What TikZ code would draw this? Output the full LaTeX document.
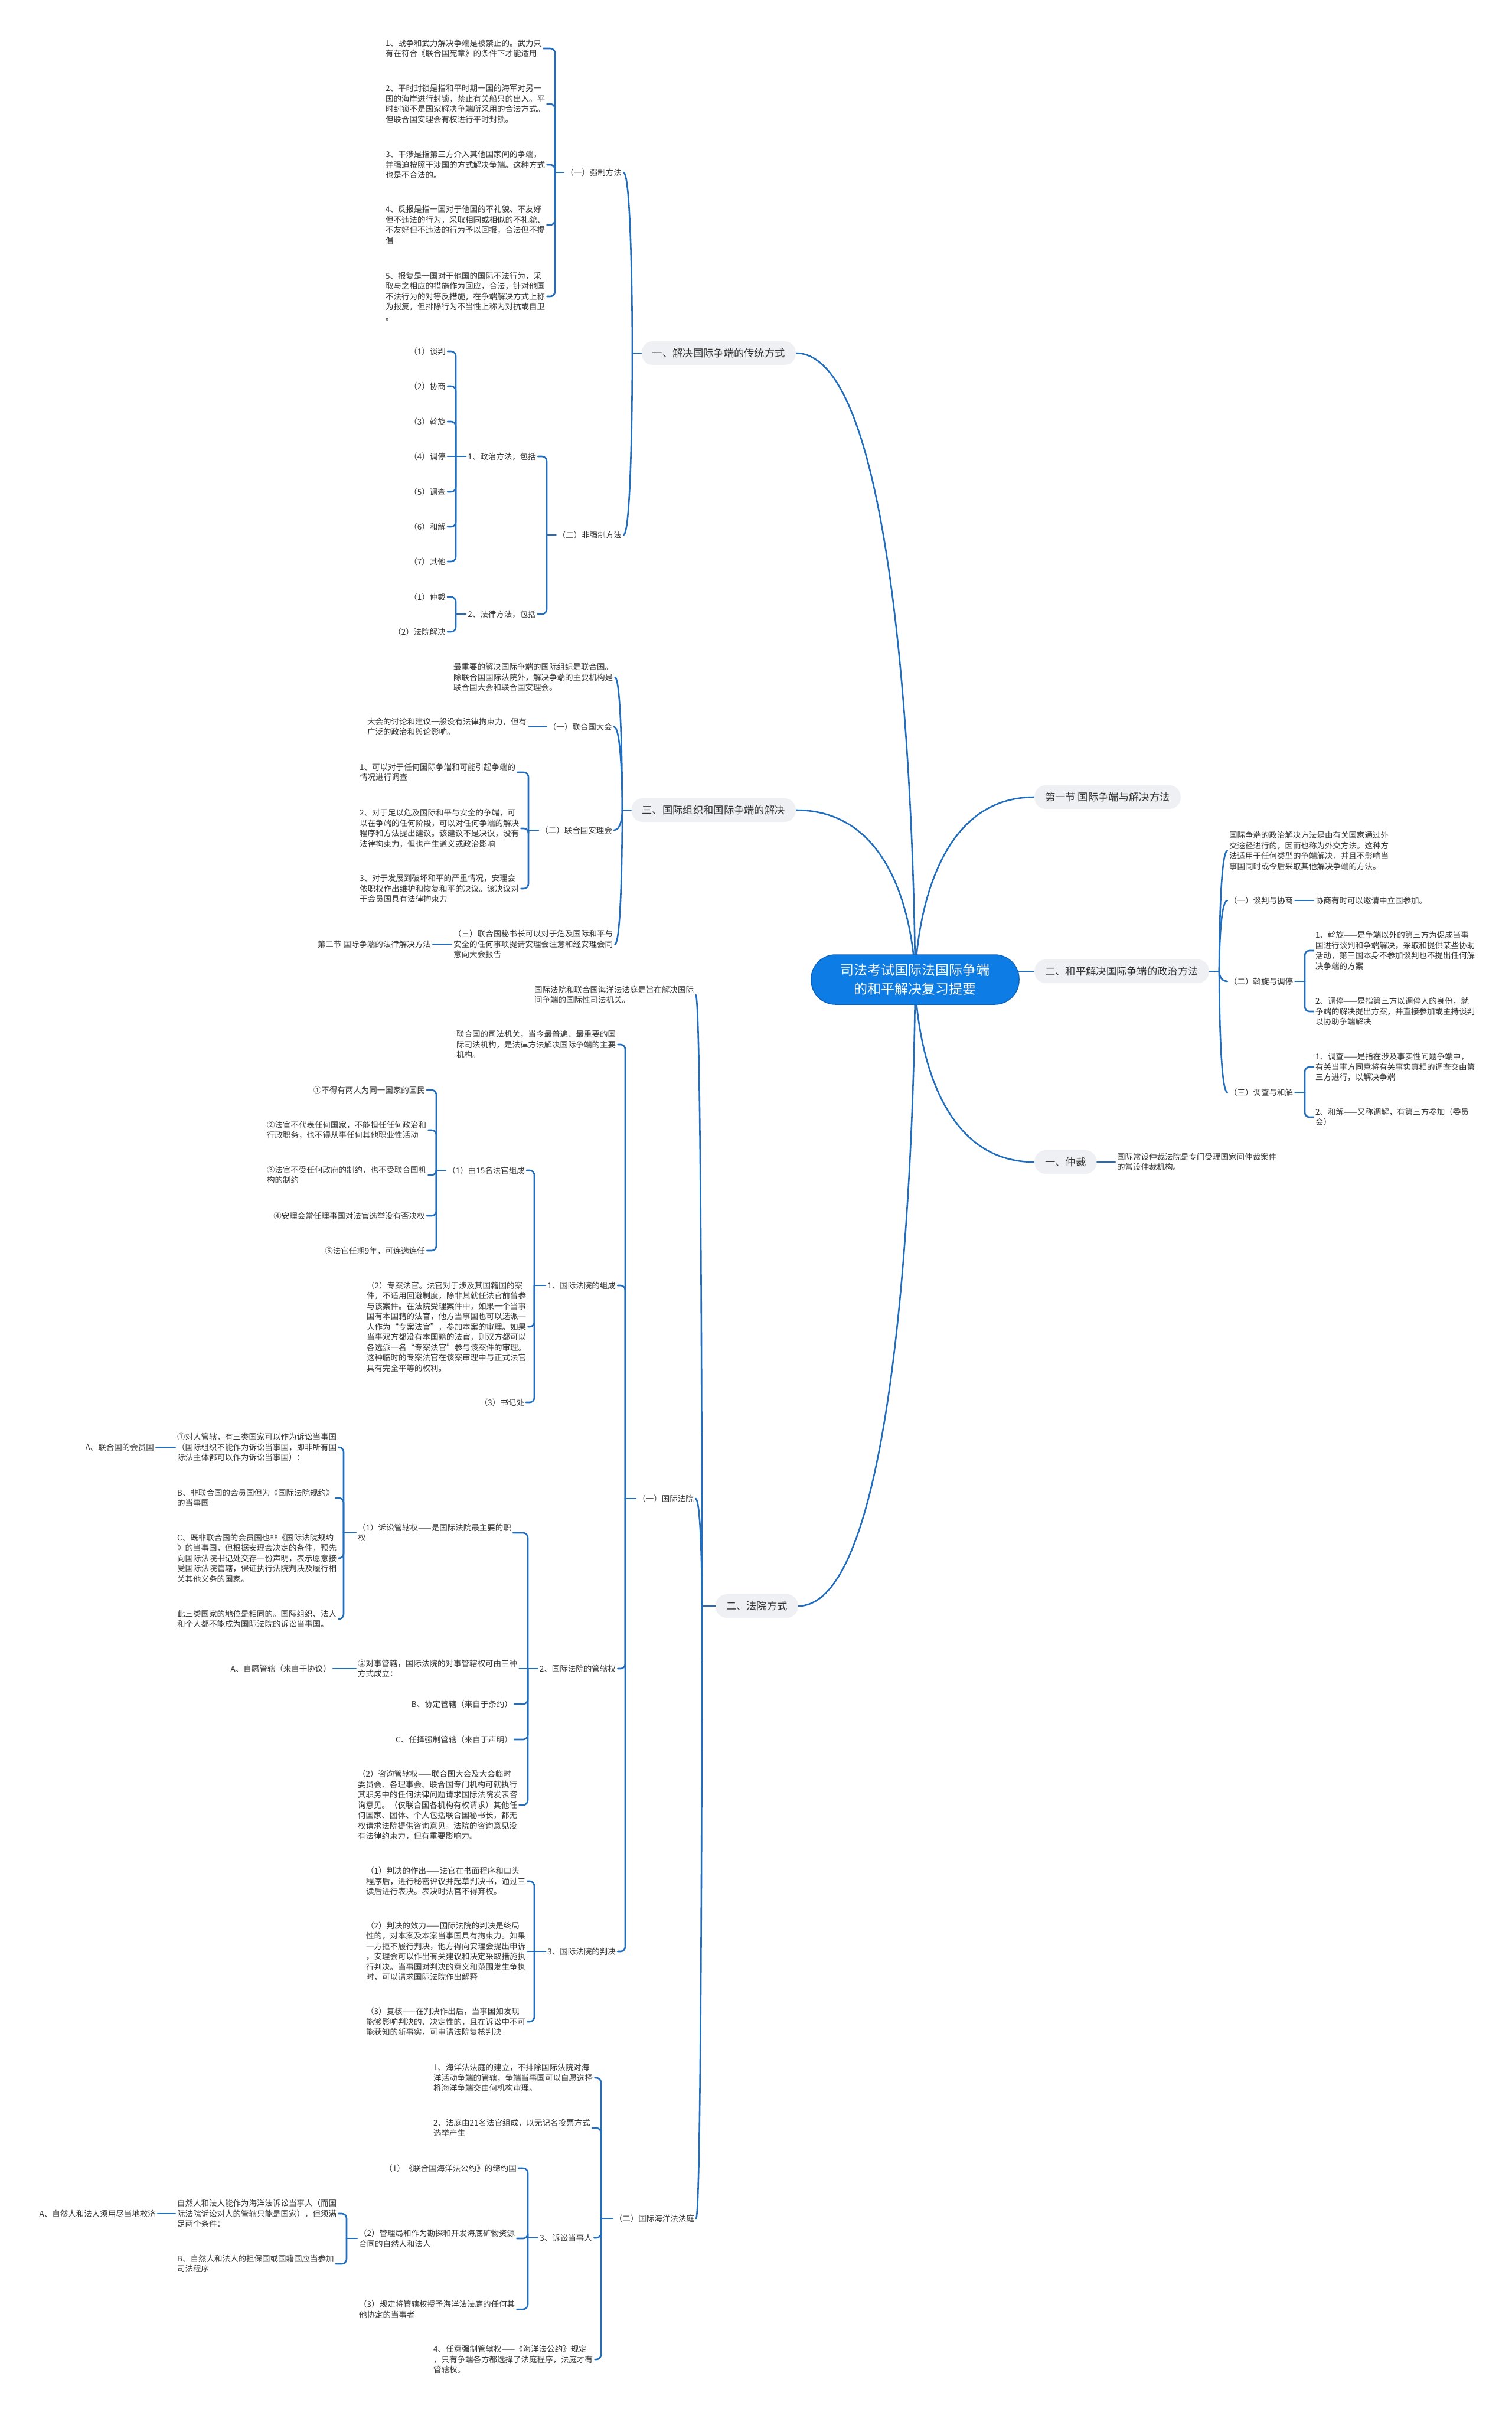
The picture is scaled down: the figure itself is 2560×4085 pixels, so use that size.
\documentclass[tikz,border=0pt]{standalone}
\usepackage{fontspec}
\setmainfont{Noto Sans CJK SC}
\definecolor{lcol}{HTML}{216EBE}
\definecolor{tcol}{HTML}{333333}
\definecolor{boxcol}{HTML}{EEF0F3}
\definecolor{rootcol}{HTML}{0D7DE5}
\definecolor{rootedge}{HTML}{0B63BD}
\pgfdeclarelayer{bg}\pgfdeclarelayer{lines}\pgfsetlayers{bg,lines,main}
\tikzset{
  tx/.style={font=\fontsize{13.5}{17.5}\selectfont, text=tcol, align=left, inner xsep=3pt, inner ysep=1pt},
  lvlone/.style={font=\fontsize{17.3}{22}\selectfont, text=tcol, fill=boxcol, rounded corners=19pt, minimum height=40pt, inner xsep=18pt, inner ysep=2pt},
  rootbox/.style={font=\fontsize{23}{32}\selectfont, text=white, align=center, fill=rootcol, draw=rootedge, line width=1.5pt, rounded corners=41pt, minimum width=352pt, minimum height=84pt},
  conn/.style={draw=lcol, line width=2.6pt, line cap=round, line join=round},
}
% bracket, children on the left
\newcommand\brL[3]{%
  \begin{pgfonlayer}{lines}
  \path (#2,0) coordinate (bxc);
  \draw[conn] (#1.west) -- (bxc |- #1.west);
  \foreach \c in {#3}{\draw[conn,rounded corners=8pt] (bxc |- #1.west) -- (bxc |- \c.east) -- (\c.east);}
  \end{pgfonlayer}}
% bracket, children on the right
\newcommand\brR[3]{%
  \begin{pgfonlayer}{lines}
  \path (#2,0) coordinate (bxc);
  \draw[conn] (#1.east) -- (bxc |- #1.east);
  \foreach \c in {#3}{\draw[conn,rounded corners=8pt] (bxc |- #1.east) -- (bxc |- \c.west) -- (\c.west);}
  \end{pgfonlayer}}
% curved, children on the left
\newcommand\cuL[3]{%
  \begin{pgfonlayer}{lines}
  \path (#2,0) coordinate (bxc);
  \draw[conn] (#1.west) -- (bxc |- #1.west);
  \foreach \c in {#3}{\draw[conn] (bxc |- #1.west) .. controls (bxc |- #1.west) and (bxc |- \c.east) .. (\c.east);}
  \end{pgfonlayer}}
% curved, children on the right
\newcommand\cuR[3]{%
  \begin{pgfonlayer}{lines}
  \path (#2,0) coordinate (bxc);
  \draw[conn] (#1.east) -- (bxc |- #1.east);
  \foreach \c in {#3}{\draw[conn] (bxc |- #1.east) .. controls (bxc |- #1.east) and (bxc |- \c.west) .. (\c.west);}
  \end{pgfonlayer}}
% straight link, child on the left / right
\newcommand\stL[2]{\begin{pgfonlayer}{lines}\draw[conn] (#1.west) -- (#2.east);\end{pgfonlayer}}
\newcommand\stR[2]{\begin{pgfonlayer}{lines}\draw[conn] (#1.east) -- (#2.west);\end{pgfonlayer}}

\begin{document}
\begin{tikzpicture}[x=1pt,y=-1pt]
\begin{pgfonlayer}{bg}
\fill[white] (0,0) rectangle (2560,4085);
\end{pgfonlayer}
\useasboundingbox (0,0) rectangle (2560,4085);

% ---------- root ----------
\node[rootbox] (R) at (1550,1659) {司法考试国际法国际争端\\的和平解决复习提要};
\coordinate (rc) at (1550,1659);

% ---------- level 1 ----------
\node[lvlone, anchor=east] (A0) at (1348,598) {一、解决国际争端的传统方式};
\node[lvlone, anchor=east] (B0) at (1348,1372) {三、国际组织和国际争端的解决};
\node[lvlone, anchor=east] (C0) at (1352,2720) {二、法院方式};
\node[lvlone, anchor=west] (D1) at (1752,1350) {第一节 国际争端与解决方法};
\node[lvlone, anchor=west] (D2) at (1752,1645) {二、和平解决国际争端的政治方法};
\node[lvlone, anchor=west] (D3) at (1752,1968) {一、仲裁};

\begin{pgfonlayer}{lines}
\draw[conn] (rc) .. controls (rc) and (rc |- D1.west) .. (D1.west);
\draw[conn] (rc) .. controls (rc) and (rc |- D3.west) .. (D3.west);
\draw[conn] (rc) .. controls (rc) and (rc |- A0.east) .. (A0.east);
\draw[conn] (rc) .. controls (rc) and (rc |- B0.east) .. (B0.east);
\draw[conn] (rc) .. controls (rc) and (rc |- C0.east) .. (C0.east);
\draw[conn] (R.center |- D2.west) -- (D2.west);
\end{pgfonlayer}

% ---------- section A ----------
\node[tx, anchor=east] (A1) at (1056,292) {（一）强制方法};
\node[tx, anchor=west] (a11) at (650,82) {1、战争和武力解决争端是被禁止的。武力只\\有在符合《联合国宪章》的条件下才能适用};
\node[tx, anchor=west] (a12) at (650,176) {2、平时封锁是指和平时期一国的海军对另一\\国的海岸进行封锁，禁止有关船只的出入。平\\时封锁不是国家解决争端所采用的合法方式。\\但联合国安理会有权进行平时封锁。};
\node[tx, anchor=west] (a13) at (650,279) {3、干涉是指第三方介入其他国家间的争端，\\并强迫按照干涉国的方式解决争端。这种方式\\也是不合法的。};
\node[tx, anchor=west] (a14) at (650,381) {4、反报是指一国对于他国的不礼貌、不友好\\但不违法的行为，采取相同或相似的不礼貌、\\不友好但不违法的行为予以回报，合法但不提\\倡};
\node[tx, anchor=west] (a15) at (650,502) {5、报复是一国对于他国的国际不法行为，采\\取与之相应的措施作为回应，合法，针对他国\\不法行为的对等反措施，在争端解决方式上称\\为报复，但排除行为不当性上称为对抗或自卫\\。};
\node[tx, anchor=east] (A2) at (1056,906) {（二）非强制方法};
\node[tx, anchor=east] (A21) at (911,773) {1、政治方法，包括};
\node[tx, anchor=east] (A22) at (911,1040) {2、法律方法，包括};
\node[tx, anchor=east] (p1) at (758,595) {（1）谈判};
\node[tx, anchor=east] (p2) at (758,654) {（2）协商};
\node[tx, anchor=east] (p3) at (758,714) {（3）斡旋};
\node[tx, anchor=east] (p4) at (758,773) {（4）调停};
\node[tx, anchor=east] (p5) at (758,833) {（5）调查};
\node[tx, anchor=east] (p6) at (758,892) {（6）和解};
\node[tx, anchor=east] (p7) at (758,951) {（7）其他};
\node[tx, anchor=east] (q1) at (758,1011) {（1）仲裁};
\node[tx, anchor=east] (q2) at (758,1070) {（2）法院解决};
\cuL{A0}{1071}{A1,A2}
\brL{A1}{940}{a11,a12,a13,a14,a15}
\brL{A2}{926}{A21,A22}
\brL{A21}{772}{p1,p2,p3,p5,p6,p7}
\stL{A21}{p4}
\brL{A22}{772}{q1,q2}

% ---------- section B ----------
\node[tx, anchor=west] (b1) at (765,1147) {最重要的解决国际争端的国际组织是联合国。\\除联合国国际法院外，解决争端的主要机构是\\联合国大会和联合国安理会。};
\node[tx, anchor=east] (B2) at (1040,1231) {（一）联合国大会};
\node[tx, anchor=west] (b21) at (619,1231) {大会的讨论和建议一般没有法律拘束力，但有\\广泛的政治和舆论影响。};
\node[tx, anchor=east] (B3) at (1040,1406) {（二）联合国安理会};
\node[tx, anchor=west] (b31) at (606,1308) {1、可以对于任何国际争端和可能引起争端的\\情况进行调查};
\node[tx, anchor=west] (b32) at (606,1403) {2、对于足以危及国际和平与安全的争端，可\\以在争端的任何阶段，可以对任何争端的解决\\程序和方法提出建议。该建议不是决议，没有\\法律拘束力，但也产生道义或政治影响};
\node[tx, anchor=west] (b33) at (606,1505) {3、对于发展到破坏和平的严重情况，安理会\\依职权作出维护和恢复和平的决议。该决议对\\于会员国具有法律拘束力};
\node[tx, anchor=west] (B4) at (765,1599) {（三）联合国秘书长可以对于危及国际和平与\\安全的任何事项提请安理会注意和经安理会同\\意向大会报告};
\node[tx, anchor=east] (b41) at (733,1599) {第二节 国际争端的法律解决方法};
\cuL{B0}{1054}{b1,B2,B3,B4}
\stL{B2}{b21}
\brL{B3}{895}{b31,b32,b33}
\stL{B4}{b41}

% ---------- section C ----------
\node[tx, anchor=west] (c1) at (902,1685) {国际法院和联合国海洋法法庭是旨在解决国际\\间争端的国际性司法机关。};
\node[tx, anchor=east] (C2) at (1178,2538) {（一）国际法院};
\node[tx, anchor=east] (C3) at (1179,3757) {（二）国际海洋法法庭};
\cuL{C0}{1189}{c1,C2,C3}

\node[tx, anchor=west] (c21) at (770,1769) {联合国的司法机关，当今最普遍、最重要的国\\际司法机构，是法律方法解决国际争端的主要\\机构。};
\node[tx, anchor=east] (C22) at (1046,2177) {1、国际法院的组成};
\node[tx, anchor=east] (C23) at (1046,2826) {2、国际法院的管辖权};
\node[tx, anchor=east] (C24) at (1046,3305) {3、国际法院的判决};
\brL{C2}{1059}{c21,C22,C23,C24}

\node[tx, anchor=east] (C221) at (892,1982) {（1）由15名法官组成};
\node[tx, anchor=west] (c222) at (618,2247) {（2）专案法官。法官对于涉及其国籍国的案\\件，不适用回避制度，除非其就任法官前曾参\\与该案件。在法院受理案件中，如果一个当事\\国有本国籍的法官，他方当事国也可以选派一\\人作为“专案法官”，参加本案的审理。如果\\当事双方都没有本国籍的法官，则双方都可以\\各选派一名“专案法官”参与该案件的审理。\\这种临时的专案法官在该案审理中与正式法官\\具有完全平等的权利。};
\node[tx, anchor=east] (c223) at (891,2375) {（3）书记处};
\brL{C22}{905}{C221,c222,c223}

\node[tx, anchor=east] (j1) at (723,1846) {①不得有两人为同一国家的国民};
\node[tx, anchor=west] (j2) at (449,1914) {②法官不代表任何国家，不能担任任何政治和\\行政职务，也不得从事任何其他职业性活动};
\node[tx, anchor=west] (j3) at (449,1990) {③法官不受任何政府的制约，也不受联合国机\\构的制约};
\node[tx, anchor=east] (j4) at (723,2059) {④安理会常任理事国对法官选举没有否决权};
\node[tx, anchor=east] (j5) at (723,2118) {⑤法官任期9年，可连选连任};
\brL{C221}{739}{j1,j2,j3,j4,j5}

\node[tx, anchor=west] (C231) at (603,2596) {（1）诉讼管辖权——是国际法院最主要的职\\权};
\node[tx, anchor=west] (C232) at (603,2826) {②对事管辖，国际法院的对事管辖权可由三种\\方式成立：};
\node[tx, anchor=east] (k3) at (871,2886) {B、协定管辖（来自于条约）};
\node[tx, anchor=east] (k4) at (871,2946) {C、任择强制管辖（来自于声明）};
\node[tx, anchor=west] (k5) at (603,3057) {（2）咨询管辖权——联合国大会及大会临时\\委员会、各理事会、联合国专门机构可就执行\\其职务中的任何法律问题请求国际法院发表咨\\询意见。（仅联合国各机构有权请求）其他任\\何国家、团体、个人包括联合国秘书长，都无\\权请求法院提供咨询意见。法院的咨询意见没\\有法律约束力，但有重要影响力。};
\brL{C23}{894}{C231,k3,k4,k5}
\stL{C23}{C232}

\node[tx, anchor=west] (C2311) at (297,2451) {①对人管辖，有三类国家可以作为诉讼当事国\\（国际组织不能作为诉讼当事国，即非所有国\\际法主体都可以作为诉讼当事国）：};
\node[tx, anchor=west] (m2) at (297,2537) {B、非联合国的会员国但为《国际法院规约》\\的当事国};
\node[tx, anchor=west] (m3) at (297,2639) {C、既非联合国的会员国也非《国际法院规约\\》的当事国，但根据安理会决定的条件，预先\\向国际法院书记处交存一份声明，表示愿意接\\受国际法院管辖，保证执行法院判决及履行相\\关其他义务的国家。};
\node[tx, anchor=west] (m4) at (297,2742) {此三类国家的地位是相同的。国际组织、法人\\和个人都不能成为国际法院的诉讼当事国。};
\brL{C231}{582}{C2311,m2,m3,m4}
\node[tx, anchor=east] (m11) at (264,2451) {A、联合国的会员国};
\stL{C2311}{m11}
\node[tx, anchor=east] (n1) at (564,2826) {A、自愿管辖（来自于协议）};
\stL{C232}{n1}

\node[tx, anchor=west] (r1) at (617,3186) {（1）判决的作出——法官在书面程序和口头\\程序后，进行秘密评议并起草判决书，通过三\\读后进行表决。表决时法官不得弃权。};
\node[tx, anchor=west] (r2) at (617,3305) {（2）判决的效力——国际法院的判决是终局\\性的，对本案及本案当事国具有拘束力。如果\\一方拒不履行判决，他方得向安理会提出申诉\\，安理会可以作出有关建议和决定采取措施执\\行判决。当事国对判决的意义和范围发生争执\\时，可以请求国际法院作出解释};
\node[tx, anchor=west] (r3) at (617,3424) {（3）复核——在判决作出后，当事国如发现\\能够影响判决的、决定性的，且在诉讼中不可\\能获知的新事实，可申请法院复核判决};
\brL{C24}{905}{r1,r3}
\stL{C24}{r2}

\node[tx, anchor=west] (s1) at (731,3519) {1、海洋法法庭的建立，不排除国际法院对海\\洋活动争端的管辖，争端当事国可以自愿选择\\将海洋争端交由何机构审理。};
\node[tx, anchor=west] (s2) at (731,3604) {2、法庭由21名法官组成，以无记名投票方式\\选举产生};
\node[tx, anchor=east] (C33) at (1006,3790) {3、诉讼当事人};
\node[tx, anchor=west] (s4) at (731,3996) {4、任意强制管辖权——《海洋法公约》规定\\，只有争端各方都选择了法庭程序，法庭才有\\管辖权。};
\brL{C3}{1018}{s1,s2,C33,s4}

\node[tx, anchor=east] (u1) at (878,3672) {（1）《联合国海洋法公约》的缔约国};
\node[tx, anchor=west] (C332) at (605,3791) {（2）管理局和作为勘探和开发海底矿物资源\\合同的自然人和法人};
\node[tx, anchor=west] (u3) at (605,3911) {（3）规定将管辖权授予海洋法法庭的任何其\\他协定的当事者};
\brL{C33}{894}{u1,C332,u3}

\node[tx, anchor=west] (C3321) at (297,3749) {自然人和法人能作为海洋法诉讼当事人（而国\\际法院诉讼对人的管辖只能是国家），但须满\\足两个条件：};
\node[tx, anchor=west] (v2) at (297,3834) {B、自然人和法人的担保国或国籍国应当参加\\司法程序};
\brL{C332}{587}{C3321,v2}
\node[tx, anchor=east] (w1) at (267,3749) {A、自然人和法人须用尽当地救济};
\stL{C3321}{w1}

% ---------- section D (right) ----------
\node[tx, anchor=west] (d1) at (2079,1441) {国际争端的政治解决方法是由有关国家通过外\\交途径进行的，因而也称为外交方法。这种方\\法适用于任何类型的争端解决，并且不影响当\\事国同时或今后采取其他解决争端的方法。};
\node[tx, anchor=west] (D22) at (2079,1525) {（一）谈判与协商};
\node[tx, anchor=west] (D23) at (2079,1662) {（二）斡旋与调停};
\node[tx, anchor=west] (D24) at (2079,1850) {（三）调查与和解};
\cuR{D2}{2065}{d1,D22,D23,D24}
\node[tx, anchor=west] (d22) at (2225,1525) {协商有时可以邀请中立国参加。};
\stR{D22}{d22}
\node[tx, anchor=west] (d31) at (2225,1610) {1、斡旋——是争端以外的第三方为促成当事\\国进行谈判和争端解决，采取和提供某些协助\\活动，第三国本身不参加谈判也不提出任何解\\决争端的方案};
\node[tx, anchor=west] (d32) at (2225,1713) {2、调停——是指第三方以调停人的身份，就\\争端的解决提出方案，并直接参加或主持谈判\\以协助争端解决};
\brR{D23}{2210}{d31,d32}
\node[tx, anchor=west] (d41) at (2225,1807) {1、调查——是指在涉及事实性问题争端中，\\有关当事方同意将有关事实真相的调查交由第\\三方进行，以解决争端};
\node[tx, anchor=west] (d42) at (2225,1892) {2、和解——又称调解，有第三方参加（委员\\会）};
\brR{D24}{2210}{d41,d42}
\node[tx, anchor=west] (d5) at (1889,1968) {国际常设仲裁法院是专门受理国家间仲裁案件\\的常设仲裁机构。};
\stR{D3}{d5}
\end{tikzpicture}
\end{document}
